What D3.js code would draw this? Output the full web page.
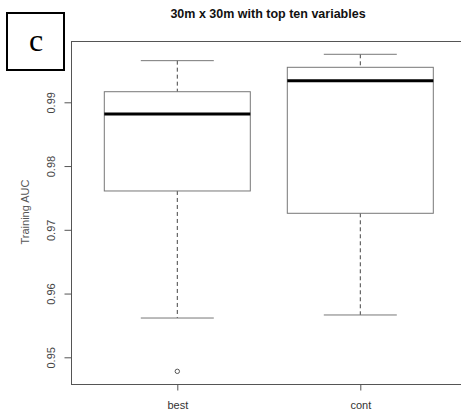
<!DOCTYPE html>
<html><head><meta charset="utf-8">
<script src="https://cdn.jsdelivr.net/npm/d3@7"></script>
<style>body{margin:0;background:#fff}svg{display:block}</style>
</head><body>
<script>
const categories = ["best", "cont"];
const lowerWhisker = [0.95616, 0.95664];
const q1 = [0.97609, 0.97259];
const median = [0.98816, 0.99339];
const q3 = [0.99166, 0.99549];
const upperWhisker = [0.99653, 0.99753];
const outliers = [[0.9478], []];
const yTicks = [0.95, 0.96, 0.97, 0.98, 0.99];
const title = "30m x 30m with top ten variables";
const yLabel = "Training AUC";
const panelLetter = "c";

(function(){
const W = 461, H = 413;
const svg = d3.select("body").append("svg").attr("width", W).attr("height", H);

const pL = 71, pR = 544, pT = 41, pB = 384;
const y = d3.scaleLinear().domain([0.95, 0.99]).range([357.3, 102.3]);
const x = d3.scalePoint().domain(categories).range([177.3, 360.3]);
const boxHalf = 73, capHalf = 36.5;

// frame
svg.append("rect").attr("x", pL + 0.5).attr("y", pT + 0.5).attr("width", pR - pL).attr("height", pB - pT)
  .attr("fill", "none").attr("stroke", "#555").attr("stroke-width", 1);

// y axis
const yAxis = d3.axisLeft(y).tickValues(yTicks).tickSize(7).tickFormat(d3.format(".2f"));
const gy = svg.append("g").attr("transform", `translate(${pL + 0.5},0)`).call(yAxis);
gy.select(".domain").remove();
gy.selectAll(".tick line").attr("stroke", "#555");
gy.selectAll(".tick text").attr("font-family", "Arial, 'Liberation Sans', sans-serif").attr("font-size", 11)
  .attr("fill", "#444").attr("transform", "rotate(-90)").attr("x", 0).attr("y", -17)
  .attr("dy", 0).attr("text-anchor", "middle");

// x axis
const xAxis = d3.axisBottom(x).tickSize(6);
const gx = svg.append("g").attr("transform", `translate(0,${pB + 0.5})`).call(xAxis);
gx.select(".domain").remove();
gx.selectAll(".tick line").attr("stroke", "#555");
gx.selectAll(".tick text").attr("font-family", "Arial, 'Liberation Sans', sans-serif").attr("font-size", 11)
  .attr("fill", "#333").attr("y", 17).attr("dy", "0.71em");

// y label
svg.append("text").attr("transform", `translate(29,212) rotate(-90)`).attr("text-anchor", "middle")
  .attr("font-family", "Arial, 'Liberation Sans', sans-serif").attr("font-size", 11).attr("fill", "#555").text(yLabel);

// title
svg.append("text").attr("x", 268).attr("y", 18).attr("text-anchor", "middle")
  .attr("font-family", "Arial, 'Liberation Sans', sans-serif").attr("font-size", 12.5).attr("font-weight", "bold")
  .attr("fill", "#111").text(title);

// panel letter
svg.append("rect").attr("x", 7).attr("y", 13).attr("width", 57).attr("height", 57)
  .attr("fill", "#fff").attr("stroke", "#000").attr("stroke-width", 2);
svg.append("text").attr("x", 36).attr("y", 51).attr("text-anchor", "middle")
  .attr("font-family", "'Liberation Serif', 'DejaVu Serif', serif").attr("font-size", 32).attr("fill", "#000").text(panelLetter);

// boxes
const data = categories.map((c, i) => ({c, lo: lowerWhisker[i], q1: q1[i], med: median[i], q3: q3[i], hi: upperWhisker[i], out: outliers[i]}));
const g = svg.selectAll("g.box").data(data).join("g").attr("class", "box");
g.append("line").attr("x1", d => x(d.c)).attr("x2", d => x(d.c)).attr("y1", d => y(d.hi)).attr("y2", d => y(d.q3))
  .attr("stroke", "#444").attr("stroke-dasharray", "4,3");
g.append("line").attr("x1", d => x(d.c)).attr("x2", d => x(d.c)).attr("y1", d => y(d.q1)).attr("y2", d => y(d.lo))
  .attr("stroke", "#444").attr("stroke-dasharray", "4,3");
g.append("line").attr("x1", d => x(d.c) - capHalf).attr("x2", d => x(d.c) + capHalf).attr("y1", d => y(d.hi)).attr("y2", d => y(d.hi))
  .attr("stroke", "#777");
g.append("line").attr("x1", d => x(d.c) - capHalf).attr("x2", d => x(d.c) + capHalf).attr("y1", d => y(d.lo)).attr("y2", d => y(d.lo))
  .attr("stroke", "#777");
g.append("rect").attr("x", d => x(d.c) - boxHalf).attr("width", boxHalf * 2)
  .attr("y", d => y(d.q3)).attr("height", d => y(d.q1) - y(d.q3))
  .attr("fill", "none").attr("stroke", "#777");
g.append("line").attr("x1", d => x(d.c) - boxHalf).attr("x2", d => x(d.c) + boxHalf).attr("y1", d => y(d.med)).attr("y2", d => y(d.med))
  .attr("stroke", "#000").attr("stroke-width", 3);
g.selectAll("circle").data(d => d.out.map(v => ({c: d.c, v}))).join("circle")
  .attr("cx", d => x(d.c)).attr("cy", d => y(d.v)).attr("r", 2.2).attr("fill", "none").attr("stroke", "#555");
})();
</script>
</body></html>
